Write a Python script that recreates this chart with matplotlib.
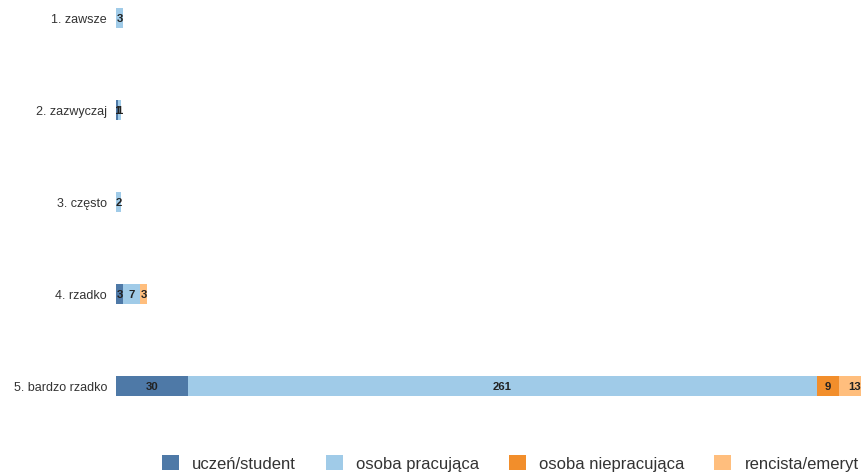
import numpy as np
import matplotlib.pyplot as plt
from matplotlib.patches import Patch

plt.rcParams['font.family'] = ['Liberation Sans', 'DejaVu Sans']

categories = ["1. zawsze", "2. zazwyczaj", "3. często", "4. rzadko", "5. bardzo rzadko"]
series_names = ["uczeń/student", "osoba pracująca", "osoba niepracująca", "rencista/emeryt"]
colors = ["#4e79a7", "#a0cbe8", "#f28e2b", "#ffbe7d"]

uczen = [0, 1, 0, 3, 30]
pracujaca = [3, 1, 2, 7, 261]
niepracujaca = [0, 0, 0, 0, 9]
emeryt = [0, 0, 0, 3, 13]
values = [uczen, pracujaca, niepracujaca, emeryt]

fig = plt.figure(figsize=(8.62, 4.77), dpi=100)
ax = fig.add_axes([116 / 862, 1 - 420 / 477, 1 - 116 / 862, 420 / 477])

y = np.arange(len(categories))
left = np.zeros(len(categories))
for vals, col in zip(values, colors):
    vals = np.array(vals, dtype=float)
    ax.barh(y, vals, left=left, height=0.22, color=col)
    for yi, (l, v) in enumerate(zip(left, vals)):
        if v > 0:
            ax.text(l + v / 2, yi, str(int(v)), ha='center', va='center',
                    fontsize=8.2, fontweight='bold', color='#222222', clip_on=True)
    left += vals

# the widest bar runs past the right edge in the original
ax.set_xlim(0, 309.7)
ax.set_ylim(4.359, -0.2065)
ax.set_yticks(y)
ax.set_yticklabels(categories, fontsize=9, color='#333333')
ax.tick_params(axis='y', length=0, pad=6.5)
ax.set_xticks([])
for s in ax.spines.values():
    s.set_visible(False)

handles = [Patch(facecolor=c, edgecolor='none') for c in colors]
fig.legend(handles, series_names, loc='center', bbox_to_anchor=(0.592, 0.027),
           ncol=4, frameon=False, fontsize=12, handlelength=1.0, handleheight=1.0,
           handletextpad=0.8, columnspacing=1.8, labelcolor='#333333')

fig.savefig('out.png', dpi=100)
